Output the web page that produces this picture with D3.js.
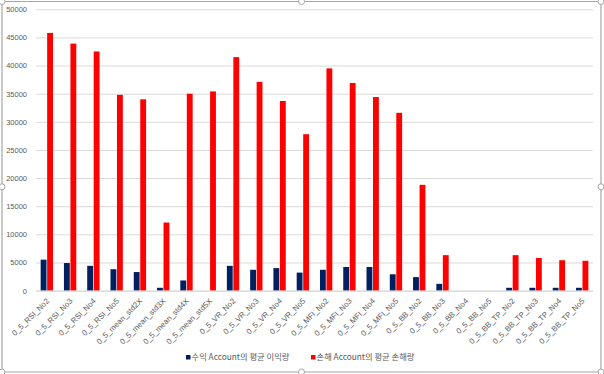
<!DOCTYPE html>
<html><head><meta charset="utf-8">
<script src="https://cdn.jsdelivr.net/npm/d3@7/dist/d3.min.js"></script>
<style>
html,body{margin:0;padding:0;background:#fff;}
svg{display:block;font-family:"Noto Sans CJK KR","Noto Sans",sans-serif;}
</style></head>
<body><svg id="c" width="604" height="374"></svg>
<script>
const categories = ["0_5_RSI_No2","0_5_RSI_No3","0_5_RSI_No4","0_5_RSI_No5",
  "0_5_mean_std2X","0_5_mean_std3X","0_5_mean_std4X","0_5_mean_std5X",
  "0_5_VR_No2","0_5_VR_No3","0_5_VR_No4","0_5_VR_No5",
  "0_5_MFI_No2","0_5_MFI_No3","0_5_MFI_No4","0_5_MFI_No5",
  "0_5_BB_No2","0_5_BB_No3","0_5_BB_No4","0_5_BB_No5",
  "0_5_BB_TP_No2","0_5_BB_TP_No3","0_5_BB_TP_No4","0_5_BB_TP_No5"];
const profitAvg = [5500,4900,4400,3800,3300,500,1800,0,4400,3700,4000,3200,3700,4200,4200,2900,2400,1200,0,0,500,500,500,500];
const lossAvg = [45800,43900,42500,34800,34000,12100,35000,35400,41500,37100,33700,27800,39500,36900,34400,31600,18800,6300,0,0,6300,5800,5400,5300];
const seriesNames = ["수익 Account의 평균 이익량","손해 Account의 평균 손해량"];
const yTicks = [0,5000,10000,15000,20000,25000,30000,35000,40000,45000,50000];
const colors = ["#002060","#ff0000"];

(function(){
const svg = d3.select("#c");
const pL=36,pR=593,pT=9.3,pB=290.6;

svg.append("rect").attr("x",2).attr("y",1.5).attr("width",599).attr("height",370.5)
  .attr("rx",4).attr("fill","#fff").attr("stroke","#a6a6a6").attr("stroke-width",1.2);

const y = d3.scaleLinear().domain([0,50000]).range([pB,pT]);
const x0 = d3.scaleBand().domain(categories).range([pL,pR]).paddingInner(0.47).paddingOuter(0.2);
const x1 = d3.scaleBand().domain([0,1]).range([0,x0.bandwidth()]).paddingInner(0.1);

const yAxis = d3.axisLeft(y).tickValues(yTicks).tickSize(-(pR-pL)).tickFormat(d3.format("d"));
const ga = svg.append("g").attr("transform",`translate(${pL},0)`).call(yAxis);
ga.select(".domain").remove();
ga.selectAll(".tick line").attr("stroke","#d9d9d9").attr("stroke-width",1);
ga.selectAll(".tick text").attr("x",-9).attr("fill","#595959").attr("font-size","7.5px");

const g = svg.append("g");
const groups = g.selectAll("g.grp").data(categories).join("g")
  .attr("transform",d=>`translate(${x0(d)},0)`);
[profitAvg,lossAvg].forEach((arr,si)=>{
  groups.append("rect")
    .attr("x",x1(si)).attr("width",x1.bandwidth())
    .attr("y",(d,i)=>y(arr[i])).attr("height",(d,i)=>y(0)-y(arr[i]))
    .attr("fill",colors[si]);
});

const xAxis = d3.axisBottom(x0).tickSize(0).tickSizeOuter(0);
const gx = svg.append("g").attr("transform",`translate(0,${pB})`).call(xAxis);
gx.select(".domain").attr("stroke","#d9d9d9");
gx.selectAll(".tick text")
  .attr("fill","#595959").attr("font-size","7.8px")
  .attr("text-anchor","end")
  .attr("dy","0.35em")
  .attr("transform","translate(1,9) rotate(-45)")
  .attr("x",0).attr("y",0);

const leg = svg.append("g").attr("transform","translate(0,357.5)");
const legX = [186,311];
seriesNames.forEach((n,i)=>{
  leg.append("rect").attr("x",legX[i]).attr("y",-2.5).attr("width",4.5).attr("height",4.5).attr("fill",colors[i]);
  leg.append("text").attr("x",legX[i]+5.5).attr("y",0).attr("dy","0.35em")
    .attr("font-size","8.3px").attr("fill","#595959").text(n);
});

const hx=[2,301.5,601], hy=[1.5,186.75,372];
hx.forEach(a=>hy.forEach(b=>{
  if(a===301.5&&b===186.75) return;
  svg.append("circle").attr("cx",a).attr("cy",b).attr("r",3).attr("fill","#fff").attr("stroke","#a6a6a6");
}));
})();
</script></body></html>
